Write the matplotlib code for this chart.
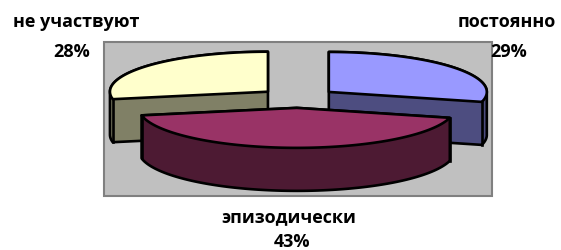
import numpy as np
import matplotlib
matplotlib.use('Agg')
import matplotlib.pyplot as plt
from matplotlib.patches import Polygon, Rectangle

categories = ['постоянно', 'эпизодически', 'не участвуют']
values = [29, 43, 28]
top_colors = ['#9999FF', '#993366', '#FFFFCC']
side_colors = ['#4D4D80', '#4D1A33', '#808066']

# label positions (pixels): name, percent
label_pos = [((507, 22), (509, 52)), ((289, 217), (292, 242)), ((76, 22), (72, 52))]

W, H = 561, 251
fig = plt.figure(figsize=(W / 100, H / 100), dpi=100)
ax = fig.add_axes([0, 0, 1, 1])
ax.set_xlim(0, W)
ax.set_ylim(H, 0)
ax.axis('off')

ax.add_patch(Rectangle((104, 43), 388, 154, facecolor='#C0C0C0',
                       edgecolor='#808080', lw=1.5, zorder=0))

cx, cy = 298, 99
rx, ry = 158, 40
depth = 43
explode = 39


def hull(points):
    pts = sorted(set(map(tuple, np.round(points, 4))))
    def cross(o, a, b):
        return (a[0] - o[0]) * (b[1] - o[1]) - (a[1] - o[1]) * (b[0] - o[0])
    lower, upper = [], []
    for p in pts:
        while len(lower) >= 2 and cross(lower[-2], lower[-1], p) <= 0:
            lower.pop()
        lower.append(p)
    for p in reversed(pts):
        while len(upper) >= 2 and cross(upper[-2], upper[-1], p) <= 0:
            upper.pop()
        upper.append(p)
    return np.array(lower[:-1] + upper[:-1])


total = float(sum(values))
wedges = []
a = 90.0
for i, v in enumerate(values):
    a2 = a - 360.0 * v / total
    wedges.append((i, a2, a))
    a = a2

# back to front
order = sorted(wedges, key=lambda w: -np.sin(np.radians((w[1] + w[2]) / 2)))

z = 1
for i, a1, a2 in order:
    m = np.radians((a1 + a2) / 2)
    ox = cx + explode * np.cos(m)
    oy = cy - explode * (ry / rx) * np.sin(m)
    t = np.radians(np.linspace(a1, a2, 120))
    arc = np.column_stack([ox + rx * np.cos(t), oy - ry * np.sin(t)])
    top = np.vstack([[ox, oy], arc])
    bot = top + np.array([0, depth])
    h = hull(np.vstack([top, bot]))
    ax.add_patch(Polygon(h, closed=True, facecolor=side_colors[i],
                         edgecolor='black', lw=1.9, joinstyle='round', zorder=z))
    for ang in (a1, a2):
        if np.sin(np.radians(ang)) < -1e-6:
            px = ox + rx * np.cos(np.radians(ang))
            py = oy - ry * np.sin(np.radians(ang))
            ax.plot([px, px], [py, py + depth], color='black', lw=1.9, zorder=z + 0.5)
    ax.add_patch(Polygon(top, closed=True, facecolor=top_colors[i],
                         edgecolor='black', lw=1.9, joinstyle='round', zorder=z + 1))
    z += 2

fam = ['Open Sans', 'DejaVu Sans']
for i, name in enumerate(categories):
    (nx, ny), (px, py) = label_pos[i]
    pct = round(100 * values[i] / total)
    ax.text(nx, ny, name, ha='center', va='center', fontsize=13,
            fontweight='bold', family=fam, zorder=20)
    ax.text(px, py, f'{pct}%', ha='center', va='center', fontsize=13,
            fontweight='bold', family=fam, zorder=20)

fig.savefig('out.png', dpi=100)
